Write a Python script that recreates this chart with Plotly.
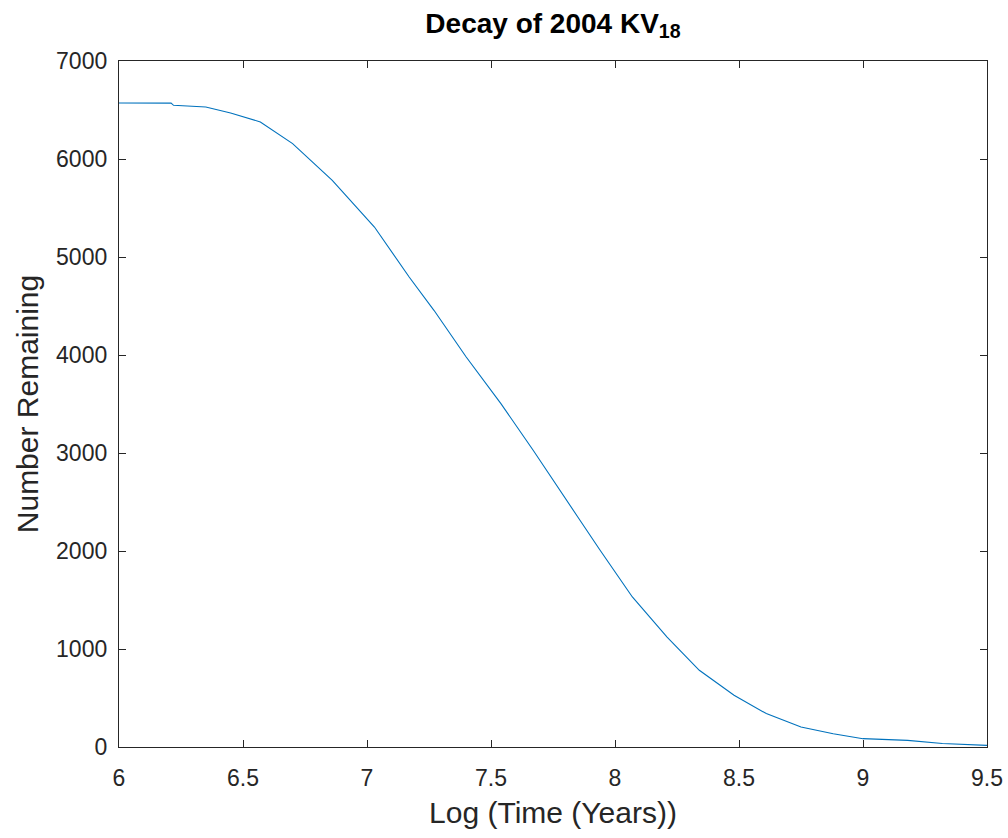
import plotly.graph_objects as go

log_time = [6.0, 6.21, 6.22, 6.35, 6.45, 6.57, 6.70, 6.86, 7.03, 7.17, 7.27, 7.40,
            7.54, 7.67, 7.85, 7.94, 8.07, 8.21, 8.34, 8.48, 8.61, 8.75, 8.88,
            9.0, 9.18, 9.32, 9.5]
remaining = [6572, 6570, 6548, 6531, 6470, 6378, 6157, 5783, 5306, 4796, 4456, 3980,
             3504, 3028, 2347, 2007, 1531, 1122, 783, 528, 341, 204, 136,
             85, 68, 35, 17]

x_ticks = [6, 6.5, 7, 7.5, 8, 8.5, 9, 9.5]
x_tick_labels = ["6", "6.5", "7", "7.5", "8", "8.5", "9", "9.5"]
y_ticks = [0, 1000, 2000, 3000, 4000, 5000, 6000, 7000]

FONT = "Liberation Sans, Arial, Helvetica, sans-serif"

fig = go.Figure()
fig.add_trace(go.Scatter(x=log_time, y=remaining, mode="lines",
                         line=dict(color="#0072BD", width=1.1),
                         showlegend=False, hoverinfo="x+y"))

axis_common = dict(showline=True, linecolor="#262626", linewidth=1.3, mirror="ticks",
                   ticks="inside", ticklen=7, tickcolor="#262626", tickwidth=1.3,
                   showgrid=False, zeroline=False, automargin=False,
                   tickfont=dict(family=FONT, size=23, color="#262626"))

fig.update_layout(
    width=1008, height=838,
    margin=dict(l=119, r=21, t=61, b=91),
    paper_bgcolor="white", plot_bgcolor="white",
    title=dict(text="<b>Decay of 2004 KV<sub>18</sub></b>",
               x=(119 + 987) / 2 / 1008, xanchor="center",
               y=1 - 13 / 838, yanchor="top", yref="container",
               font=dict(family=FONT, size=28, color="black")),
    xaxis=dict(range=[6, 9.5], tickvals=x_ticks, ticktext=x_tick_labels,
               title=dict(text="Log (Time (Years))", standoff=12,
                          font=dict(family=FONT, size=30, color="#262626")),
               ticklabelstandoff=10, **axis_common),
    yaxis=dict(range=[0, 7000], tickvals=y_ticks,
               title=dict(text="Number Remaining", standoff=8,
                          font=dict(family=FONT, size=30, color="#262626")),
               ticklabelstandoff=6, **axis_common),
)

fig.write_html("out.html")
